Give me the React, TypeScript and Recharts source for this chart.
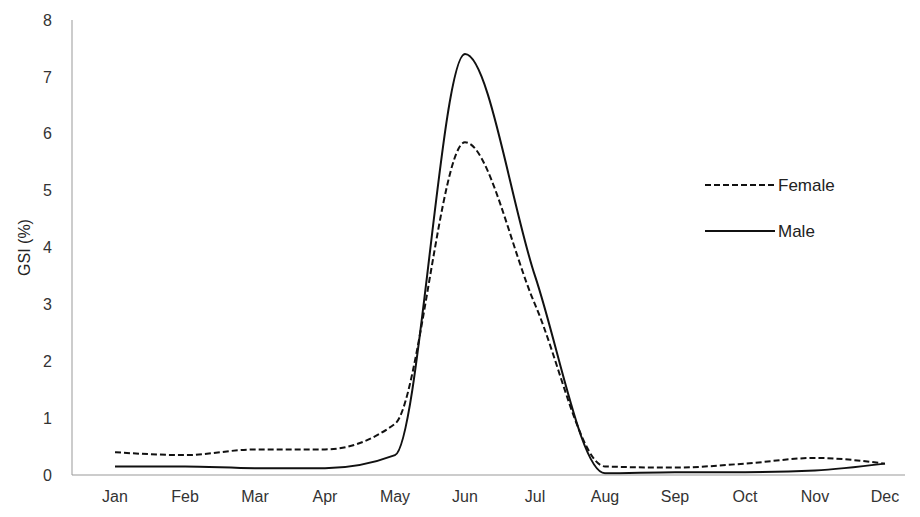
import React from "react";
import { LineChart, Line, XAxis, YAxis } from "recharts";

const months = ["Jan","Feb","Mar","Apr","May","Jun","Jul","Aug","Sep","Oct","Nov","Dec"];
const female = [0.4,0.35,0.45,0.45,0.9,5.85,3.0,0.15,0.13,0.2,0.3,0.2];
const male = [0.15,0.15,0.12,0.12,0.35,7.4,3.5,0.03,0.05,0.05,0.08,0.2];
const yTicks = [0,1,2,3,4,5,6,7,8];
const seriesNames = ["Female", "Male"];

const data = months.map((m, i) => ({ month: m, Female: female[i], Male: male[i] }));

const font = "'Liberation Sans', Arial, sans-serif";

export default function App() {
  return (
    <div style={{ position: "relative", width: 912, height: 509 }}>
      <LineChart width={912} height={509} data={data} margin={{ top: 12, right: 15, bottom: 12, left: 0 }}>
        <XAxis dataKey="month" padding={{ left: 43, right: 20 }} height={30} tickLine={false}
          axisLine={{ stroke: "#999" }} tick={{ fill: "#333", fontSize: 16, fontFamily: font }} tickMargin={10} />
        <YAxis domain={[0, 8]} ticks={yTicks} width={64} tickLine={false} axisLine={{ stroke: "#999" }}
          tick={{ fill: "#333", fontSize: 16, fontFamily: font }} tickMargin={14}
          label={{ value: "GSI (%)", angle: -90, position: "insideLeft", offset: 16, style: { fill: "#222", fontSize: 16, fontFamily: font, textAnchor: "middle" } }} />
        <Line type="monotone" dataKey="Female" stroke="#111" strokeWidth={2} strokeDasharray="6 3" dot={false} isAnimationActive={false} />
        <Line type="monotone" dataKey="Male" stroke="#111" strokeWidth={2} dot={false} isAnimationActive={false} />
      </LineChart>
      <svg width={140} height={80} style={{ position: "absolute", left: 692, top: 163 }}>
        <line x1={5} y1={14} x2={75} y2={14} stroke="#111" strokeWidth={2} strokeDasharray="6 3" />
        <text x={78} y={20} fontSize={17} fontFamily={font} fill="#222">{seriesNames[0]}</text>
        <line x1={5} y1={60} x2={75} y2={60} stroke="#111" strokeWidth={2} />
        <text x={78} y={66} fontSize={17} fontFamily={font} fill="#222">{seriesNames[1]}</text>
      </svg>
    </div>
  );
}
